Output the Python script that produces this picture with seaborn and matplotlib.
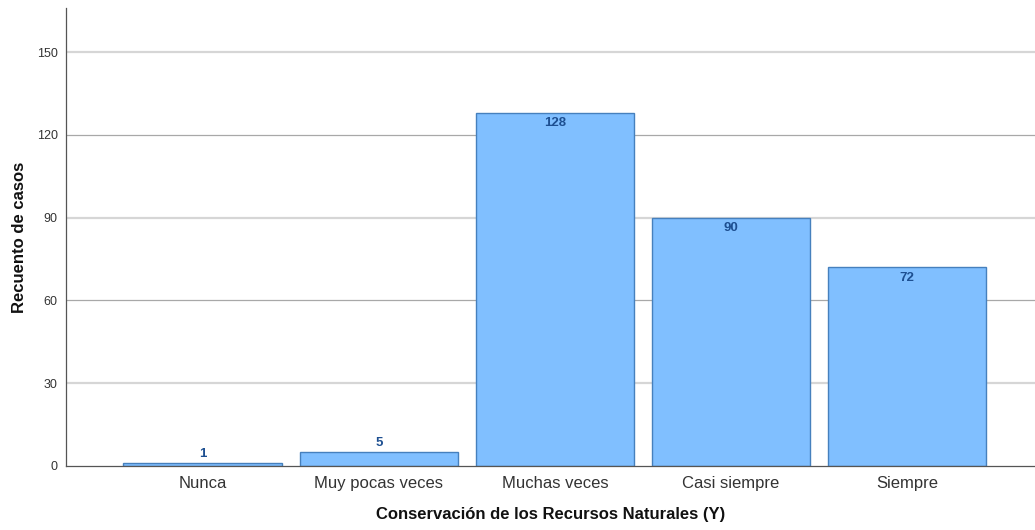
import pandas as pd
import matplotlib.pyplot as plt
import seaborn as sns

# Data
categories = ['Nunca', 'Muy pocas veces', 'Muchas veces', 'Casi siempre', 'Siempre']
counts = [1, 5, 128, 90, 72]

df = pd.DataFrame({'categoria': categories, 'recuento': counts})

sns.set_theme(style="white")
plt.rcParams['font.family'] = ['Liberation Sans', 'DejaVu Sans']

fig = plt.figure(figsize=(10.35, 5.3), dpi=100)
ax = fig.add_axes([0.0638, 0.1208, 0.9362, 0.864])

# Gridlines (alternating shades as in the original)
for yv in [30, 90, 150]:
    ax.axhline(yv, color='#d6d6d6', lw=1.6, zorder=0)
for yv in [60, 120]:
    ax.axhline(yv, color='#a8a8a8', lw=0.9, zorder=0)

sns.barplot(data=df, x='categoria', y='recuento', order=categories,
            color='#80bfff', saturation=1, edgecolor='#4680bd', linewidth=1.0,
            width=0.9, ax=ax, zorder=2)

# Value labels
for i, v in enumerate(counts):
    if v > 10:
        ax.annotate(str(v), (i, v), xytext=(0, -3), textcoords='offset points',
                    ha='center', va='top', fontsize=9.5, fontweight='bold',
                    color='#1d4f91', zorder=3)
    else:
        ax.annotate(str(v), (i, v), xytext=(0, 2), textcoords='offset points',
                    ha='center', va='bottom', fontsize=9.5, fontweight='bold',
                    color='#1d4f91', zorder=3)

ax.set_ylim(0, 166)
ax.set_xlim(-0.776, 4.727)
ax.set_yticks([0, 30, 60, 90, 120, 150])
ax.tick_params(axis='y', labelsize=9, colors='#333333', length=0, pad=6)
ax.tick_params(axis='x', labelsize=12, colors='#333333', length=0, pad=7)

ax.set_xlabel('Conservación de los Recursos Naturales (Y)', fontsize=12,
              fontweight='bold', labelpad=12, color='#111111')
ax.set_ylabel('Recuento de casos', fontsize=12, fontweight='bold', labelpad=7,
              color='#111111')

for side in ['top', 'right']:
    ax.spines[side].set_visible(False)
for side in ['left', 'bottom']:
    ax.spines[side].set_color('#555555')
    ax.spines[side].set_linewidth(0.9)

plt.savefig('out.png', dpi=100)
plt.close()
